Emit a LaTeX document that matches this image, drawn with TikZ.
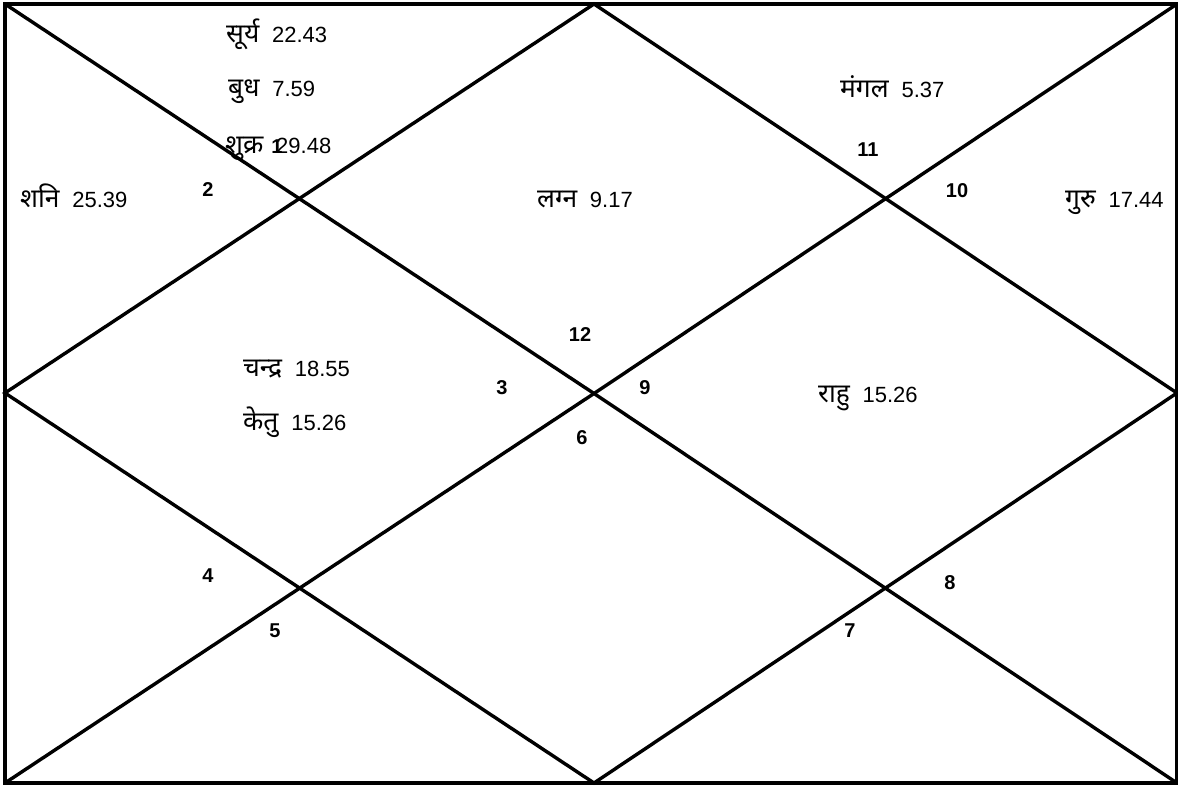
\documentclass[tikz,border=0pt]{standalone}
\usepackage{fontspec}
\setmainfont{Liberation Sans}
\newfontfamily\deva[Script=Devanagari,Scale=1.2]{Noto Sans}
\tikzset{
  chartline/.style={line width=3.4pt, line cap=round, line join=miter},
  planet/.style={anchor=base west, inner sep=0pt, font=\fontsize{22}{26}\selectfont},
  house/.style={anchor=center, inner sep=0pt, font=\fontsize{20}{24}\selectfont\bfseries}
}
\newcommand{\pl}[2]{{\deva #1}\hspace{0.58em}#2}
\begin{document}
\begin{tikzpicture}[x=1pt,y=-1pt]
\useasboundingbox (0,0) rectangle (1178,786);
% frame corners and midpoints
\coordinate (tl) at (5,4);
\coordinate (tr) at (1177,4);
\coordinate (br) at (1177,783);
\coordinate (bl) at (5,783);
\coordinate (tm) at (594,4);
\coordinate (bm) at (594,783);
\coordinate (lm) at (5,393);
\coordinate (rm) at (1177,393);
\coordinate (ctr) at (594,393.5);
\draw[chartline] (tl) rectangle (br);
\draw[chartline] (tl) -- (ctr) -- (br);
\draw[chartline] (tr) -- (ctr) -- (bl);
\draw[chartline] (tm) -- (rm) -- (bm) -- (lm) -- cycle;
% planets
\node[planet] (surya) at (226,43) {\pl{सूर्य}{22.43}};
\node[planet] (budh) at (228,97) {\pl{बुध}{7.59}};
\node[planet] (shukra) at (225,154) {\pl{शुक्र}{29.48}};
\node[planet] (shani) at (20,208) {\pl{शनि}{25.39}};
\node[planet] (mangal) at (840,98) {\pl{मंगल}{5.37}};
\node[planet] (lagna) at (537,208) {\pl{लग्न}{9.17}};
\node[planet] (guru) at (1065,208) {\pl{गुरु}{17.44}};
\node[planet] (chandra) at (243,376) {\pl{चन्द्र}{18.55}};
\node[planet] (ketu) at (243,430) {\pl{केतु}{15.26}};
\node[planet] (rahu) at (818,402) {\pl{राहु}{15.26}};
% house numbers
\node[house] (h1) at (277,147) {1};
\node[house] (h2) at (208,190) {2};
\node[house] (h3) at (502,388) {3};
\node[house] (h4) at (208,576) {4};
\node[house] (h5) at (275,631) {5};
\node[house] (h6) at (582,438) {6};
\node[house] (h7) at (850,631) {7};
\node[house] (h8) at (950,583) {8};
\node[house] (h9) at (645,388) {9};
\node[house] (h10) at (957,191) {10};
\node[house] (h11) at (868,150) {11};
\node[house] (h12) at (580,335) {12};
\end{tikzpicture}
\end{document}
